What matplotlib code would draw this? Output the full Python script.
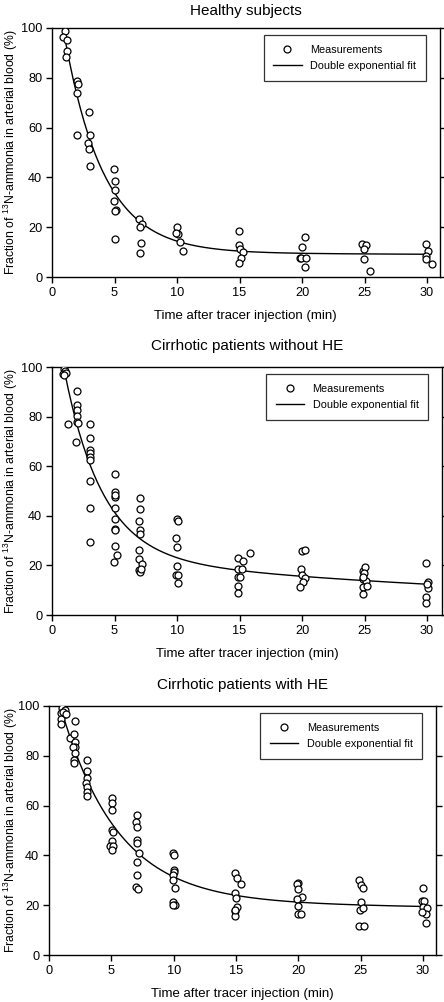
import numpy as np
import matplotlib
matplotlib.use("Agg")
import matplotlib.pyplot as plt

plt.rcParams['font.family'] = ['Liberation Sans', 'DejaVu Sans']
plt.rcParams['mathtext.fontset'] = 'custom'
plt.rcParams['mathtext.rm'] = 'Liberation Sans'
plt.rcParams['mathtext.it'] = 'Liberation Sans:italic'

titles = ['Healthy subjects', 'Cirrhotic patients without HE', 'Cirrhotic patients with HE']

# measurements: (time, fraction %)
healthy_t = [1.04, 0.9, 1.17, 1.22, 1.1,
             1.97, 2.1, 2.0, 1.97,
             2.99, 3.04, 2.9, 2.95, 3.0,
             4.99, 5.0, 5.05, 4.98, 5.15, 5.0, 5.05,
             6.99, 7.2, 7.0, 7.1, 7.05,
             9.97, 10.05, 9.95, 10.2, 10.45,
             14.96, 14.95, 15.05, 15.25, 15.1, 14.95,
             20.24, 19.97, 19.84, 19.95, 20.3, 20.25,
             24.8, 25.1, 24.95, 24.95, 25.4,
             29.9, 30.1, 29.95, 29.95, 30.4]
healthy_y = [98.7, 96.5, 95.3, 90.9, 88.2,
             78.8, 77.7, 73.8, 56.9,
             66.2, 57.0, 53.9, 51.3, 44.4,
             43.5, 38.4, 34.8, 30.4, 27.0, 26.6, 15.2,
             23.3, 21.2, 19.9, 13.8, 9.8,
             19.9, 17.2, 17.5, 14.0, 10.6,
             18.5, 12.8, 11.3, 10.0, 7.7, 5.5,
             16.0, 12.2, 7.5, 7.5, 7.8, 4.2,
             13.3, 13.0, 11.2, 7.1, 2.4,
             13.2, 10.4, 8.5, 7.3, 5.2]

nohe_t = [0.95, 1.0, 0.9, 1.1, 0.95, 1.25,
          2.0, 2.0, 2.0, 2.0, 2.0, 2.05, 1.95,
          3.0, 3.05, 3.05, 3.0, 3.05, 3.05, 3.0, 3.0, 3.05,
          5.0, 5.0, 5.0, 5.05, 5.0, 5.05, 5.0, 5.0, 5.0, 5.2, 4.95,
          7.0, 7.0, 6.98, 7.0, 7.0, 6.98, 6.98, 7.2, 6.98, 7.05, 7.1,
          9.97, 10.05, 9.95, 10.0, 10.0, 9.95, 10.05, 10.05,
          14.9, 15.3, 15.8, 14.9, 15.2, 14.9, 15.0, 14.9, 14.9,
          19.97, 20.2, 19.9, 19.97, 20.2, 20.05, 19.8,
          24.85, 25.04, 24.96, 24.85, 25.1, 24.9, 25.2, 24.9, 24.85,
          29.9, 30.05, 30.1, 29.95, 29.95, 30.0]
nohe_y = [99.0, 98.5, 97.0, 97.5, 96.8, 77.0,
          90.2, 84.8, 82.8, 80.1, 77.7, 77.4, 69.8,
          76.9, 71.4, 66.4, 65.4, 63.7, 62.4, 53.9, 43.3, 29.4,
          57.0, 49.6, 47.6, 48.3, 43.3, 38.8, 34.8, 34.4, 27.7, 24.3, 21.4,
          47.3, 42.9, 37.9, 34.4, 32.5, 26.1, 22.7, 20.4, 18.0, 17.3, 18.4,
          38.6, 37.8, 31.2, 27.4, 19.8, 16.3, 16.0, 12.9,
          22.9, 21.9, 25.1, 18.4, 18.4, 15.4, 15.2, 11.7, 8.7,
          25.9, 26.2, 18.4, 16.1, 14.8, 13.4, 11.4,
          17.9, 19.2, 17.1, 14.4, 13.8, 11.2, 11.7, 8.5, 15.5,
          20.8, 13.4, 10.8, 7.4, 4.7, 12.5]

he_t = [1.02, 1.28, 1.28, 0.94, 1.0, 1.0, 1.15, 1.34,
        2.08, 1.68, 2.0, 2.05, 2.1, 1.92, 2.1, 2.0, 2.02,
        3.07, 3.05, 3.07, 3.0, 3.07, 3.07, 3.07,
        5.07, 5.07, 5.05, 5.07, 5.15, 4.95, 5.07, 4.9, 5.15, 5.05,
        7.03, 7.0, 7.03, 7.03, 7.03, 7.24, 7.03, 7.03, 6.99, 7.1,
        9.97, 10.05, 10.05, 10.0, 9.97, 9.97, 10.1, 9.97, 10.1, 9.97,
        14.92, 15.05, 15.4, 14.9, 15.0, 15.1, 14.95, 14.95, 14.9,
        19.99, 19.86, 20.0, 20.3, 19.9, 20.0, 19.95, 20.18,
        24.86, 25.0, 25.15, 25.0, 24.95, 25.2, 24.9, 25.3,
        30.0, 29.95, 30.1, 30.0, 30.35, 30.2, 30.2, 29.95]
he_y = [99.0, 98.4, 96.7, 97.1, 94.7, 92.7, 97.7, 96.8,
        94.1, 87.1, 88.8, 85.7, 83.4, 83.4, 81.3, 78.3, 77.2,
        78.3, 74.0, 71.0, 69.0, 67.3, 65.6, 63.9,
        62.9, 61.2, 58.1, 50.2, 49.3, 43.8, 45.9, 43.8, 43.8, 42.2,
        56.2, 53.5, 51.5, 46.2, 44.9, 41.1, 37.5, 32.1, 27.4, 26.4,
        41.1, 40.2, 34.1, 33.2, 32.1, 30.1, 26.8, 21.4, 20.1, 20.1,
        32.8, 30.8, 28.5, 25.0, 22.8, 19.2, 17.8, 15.7, 18.1,
        29.0, 28.4, 26.4, 23.2, 22.4, 19.7, 16.3, 16.3,
        30.1, 28.1, 26.8, 21.4, 18.1, 19.0, 11.8, 11.8,
        27.0, 21.7, 21.7, 19.2, 18.8, 16.3, 12.7, 17.4]

# double exponential fit parameters (A1, k1, A2, k2)
fit_params = [(120.0, 0.32, 9.7, 0.002),
              (104.0, 0.33, 24.0, 0.022),
              (95.9, 0.22, 21.5, 0.0035)]
fit_range = [(0.9, 30.3), (1.0, 30.0), (1.0, 30.4)]

data = [(healthy_t, healthy_y), (nohe_t, nohe_y), (he_t, he_y)]

fig = plt.figure(figsize=(4.44, 10.02), dpi=100)
# axes rectangles in pixels: left, y of 0, width, height
rects = [(52, 277, 387.5, 249), (52, 615, 390, 248), (49, 955, 387, 249)]
xmaxes = [31, 31.2, 31.04]
title_pads = [9.5, 12, 12]

for i in range(3):
    l, y0, w, h = rects[i]
    ax = fig.add_axes([l / 444, 1 - y0 / 1002, w / 444, h / 1002])
    t, y = data[i]
    ax.plot(t, y, 'o', mfc='white', mec='black', ms=5, mew=0.9, zorder=3,
            label='Measurements')
    a1, k1, a2, k2 = fit_params[i]
    tt = np.linspace(fit_range[i][0], fit_range[i][1], 300)
    ax.plot(tt, a1 * np.exp(-k1 * tt) + a2 * np.exp(-k2 * tt), color='black',
            lw=1.0, zorder=2, label='Double exponential fit')
    ax.set_xlim(0, xmaxes[i])
    ax.set_ylim(0, 100)
    ax.set_xticks([0, 5, 10, 15, 20, 25, 30])
    ax.set_yticks([0, 20, 40, 60, 80, 100])
    ax.tick_params(direction='out', length=4, width=1, labelsize=9.2, pad=3,
                   right=True, top=False)
    for s in ax.spines.values():
        s.set_linewidth(1.0)
    ax.set_title(titles[i], fontsize=11, pad=title_pads[i])
    ax.set_xlabel('Time after tracer injection (min)', fontsize=9.5, labelpad=8)
    ax.set_ylabel(r'Fraction of $^{13}$N-ammonia in arterial blood (%)',
                  fontsize=8.8, va='center')
    ax.yaxis.set_label_coords((11 - l) / w, 0.5)
    leg = ax.legend(loc='upper right', bbox_to_anchor=(0.965, 0.972), fontsize=7.8,
                    frameon=True, fancybox=False, edgecolor='black',
                    borderpad=0.9, handlelength=2.6, handletextpad=0.8,
                    labelspacing=0.6, borderaxespad=0)
    leg.get_frame().set_linewidth(0.9)

fig.savefig('out.png', dpi=100)
